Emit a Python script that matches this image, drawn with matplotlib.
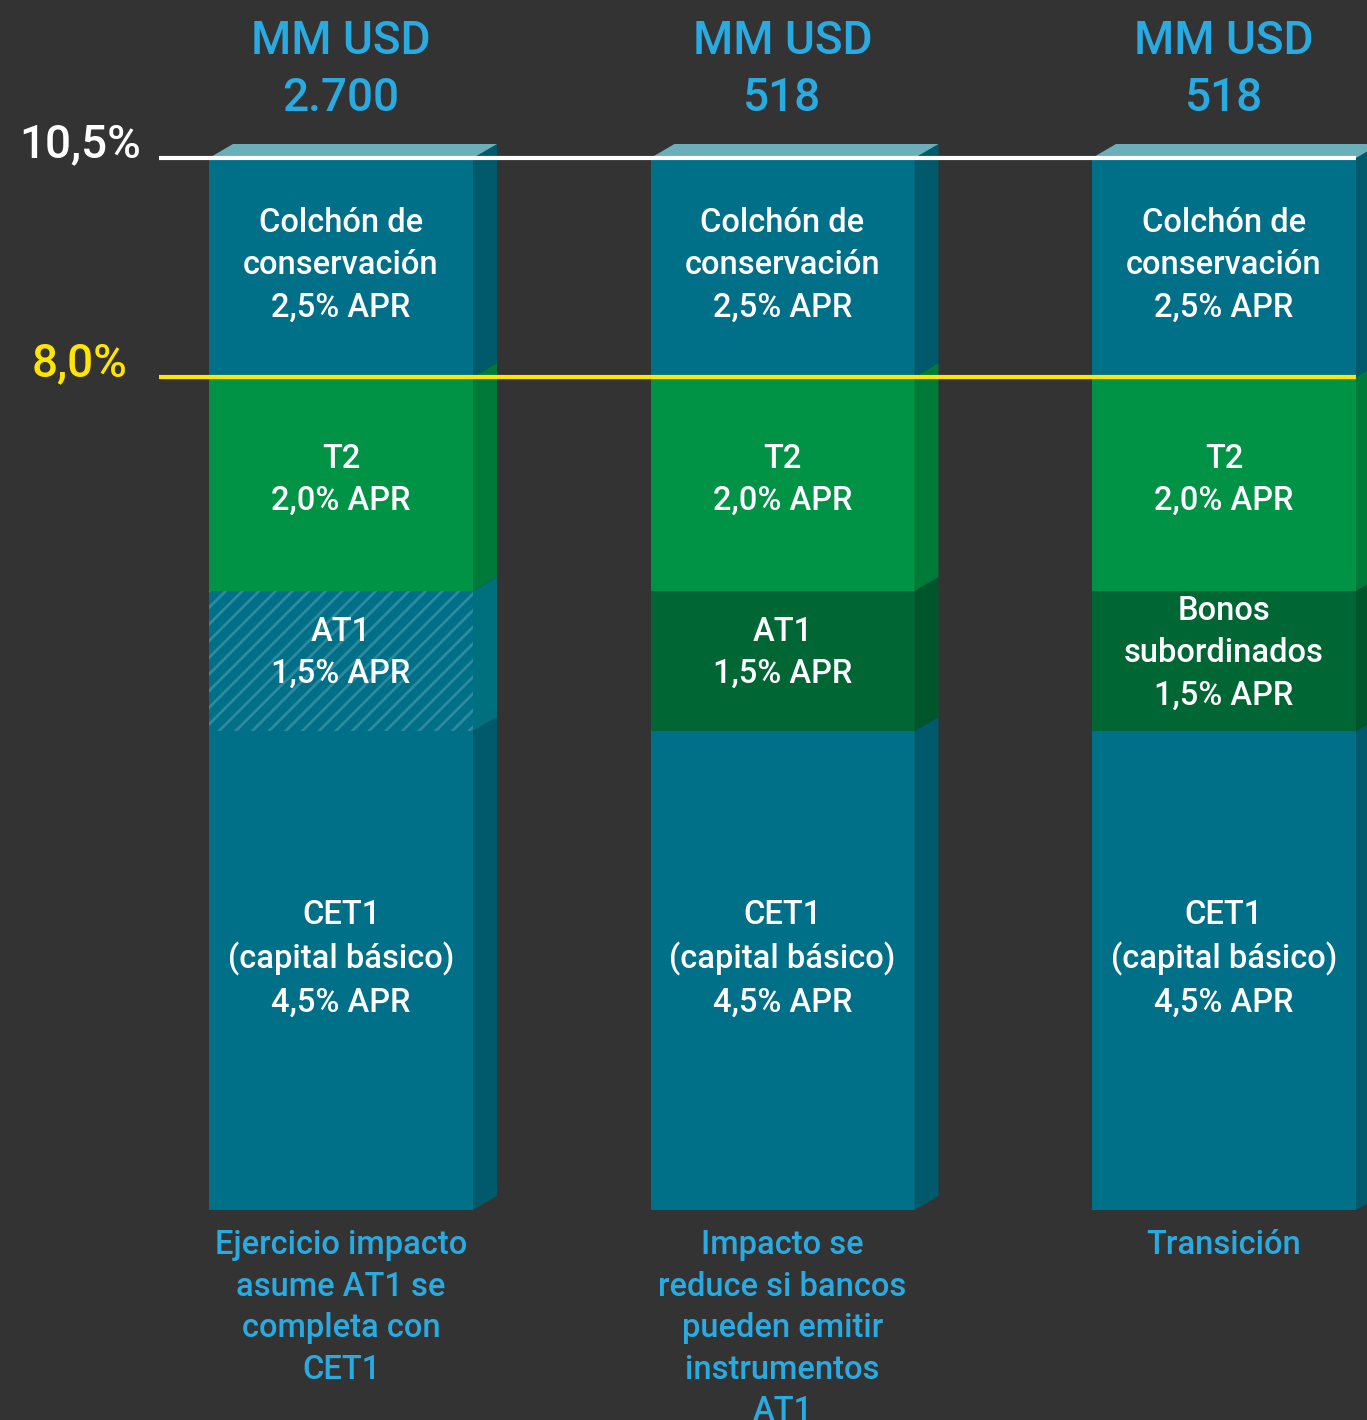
import numpy as np
import matplotlib
matplotlib.use("Agg")
import matplotlib.pyplot as plt
from matplotlib.patches import Polygon

# ---------------- data ----------------
bar_captions = [
    "Ejercicio impacto\nasume AT1 se\ncompleta con\nCET1",
    "Impacto se\nreduce si bancos\npueden emitir\ninstrumentos\nAT1",
    "Transición",
]
bar_amounts = ["2.700", "518", "518"]
amount_unit = "MM USD"

segment_values = [4.5, 1.5, 2.0, 2.5]          # % APR, bottom to top
cet1_names = ["CET1\n(capital básico)"] * 3
at1_names = ["AT1", "AT1", "Bonos\nsubordinados"]
t2_names = ["T2"] * 3
buffer_names = ["Colchón de\nconservación"] * 3
at1_style = ["hatched", "dark", "dark"]

threshold_values = [10.5, 8.0]
threshold_labels = ["10,5%", "8,0%"]

# ---------------- style ----------------
BG = "#333333"
TEAL, TEAL_SIDE, TEAL_TOP = "#006F88", "#005A6C", "#6AAFBA"
GREEN, GREEN_SIDE = "#009245", "#007A38"
DGREEN, DGREEN_SIDE = "#006633", "#00552B"
HATCH_SIDE, HATCH_LINE = "#00707E", "#2E8A9E"
BLUE = "#29ABE2"
YELLOW = "#FFE500"
WHITE = "#FFFFFF"
FONT = ["Roboto", "DejaVu Sans"]

plt.rcParams["font.family"] = FONT
plt.rcParams["font.weight"] = "medium"
plt.rcParams["hatch.linewidth"] = 2.0

W_PX, H_PX = 1367, 1420
fig = plt.figure(figsize=(W_PX / 100, H_PX / 100), dpi=100)
fig.patch.set_facecolor(BG)
ax = fig.add_axes([0, 0, 1, 1])
ax.set_facecolor(BG)
ax.axis("off")

# y scale: piecewise-linear, matching the uneven segment spacing of the original
cum = np.concatenate([[0], np.cumsum(segment_values)])
knot_d = np.concatenate([[-20], cum, [cum[-1] + 20]])
knot_p = np.concatenate([[-2000], [0, 479, 619, 833, 1052], [1052 + 2000]])


def fwd(y):
    return np.interp(y, knot_d, knot_p)


def inv(p):
    return np.interp(p, knot_p, knot_d)


ax.set_yscale("function", functions=(fwd, inv))
ax.set_ylim(float(inv(-210)), float(inv(1210)))

UNIT = 441.5  # px per category step
ax.set_xlim(-341 / UNIT, (W_PX - 341) / UNIT)
BW = 264 / UNIT
DX = 24 / UNIT
DY_PX = 14


def up(y, px=DY_PX):
    return float(inv(fwd(y) + px))


def fmt(v):
    return f"{v:.1f}".replace(".", ",") + "% APR"


n = len(bar_captions)
for i in range(n):
    names = [cet1_names[i], at1_names[i], t2_names[i], buffer_names[i]]
    styles = ["teal", at1_style[i], "green", "teal"]
    lifts = [12, 8, 4, 2]
    bottom = 0.0
    x0, x1 = i - BW / 2, i + BW / 2
    for name, val, st, lift in zip(names, segment_values, styles, lifts):
        top = bottom + val
        if st == "teal":
            fc, sc = TEAL, TEAL_SIDE
        elif st == "green":
            fc, sc = GREEN, GREEN_SIDE
        elif st == "dark":
            fc, sc = DGREEN, DGREEN_SIDE
        else:
            fc, sc = TEAL, HATCH_SIDE
        if st == "hatched":
            ax.bar(i, val, bottom=bottom, width=BW, color=fc, edgecolor=HATCH_LINE,
                   hatch="//", linewidth=0, zorder=2)
        else:
            ax.bar(i, val, bottom=bottom, width=BW, color=fc, linewidth=0, zorder=2)
        side = Polygon([(x1, bottom), (x1 + DX, up(bottom)), (x1 + DX, up(top)), (x1, top)],
                       closed=True, facecolor=sc, edgecolor="none", zorder=2)
        ax.add_patch(side)
        ymid = float(inv((fwd(bottom) + fwd(top)) / 2 + lift))
        ax.text(i, ymid, f"{name}\n{fmt(val)}", ha="center", va="center", color=WHITE,
                fontsize=23.5, linespacing=1.42, zorder=5)
        bottom = top
    topf = Polygon([(x0, bottom), (x0 + DX, up(bottom)), (x1 + DX, up(bottom)), (x1, bottom)],
                   closed=True, facecolor=TEAL_TOP, edgecolor="none", zorder=2)
    ax.add_patch(topf)
    # header
    ax.annotate(f"{amount_unit}\n{bar_amounts[i]}", xy=(i, cum[-1]), xytext=(0, 64),
                textcoords="offset points", ha="center", va="center", color=BLUE,
                fontsize=33, linespacing=1.37, zorder=5)
    # caption
    ax.annotate(bar_captions[i], xy=(i, 0), xytext=(0, -14), textcoords="offset points",
                ha="center", va="top", color=BLUE, fontsize=23.5, linespacing=1.38, zorder=5)

# threshold lines
line_x0 = 0 - BW / 2 - 50 / UNIT
line_x1 = (n - 1) + BW / 2
for val, lab, col in zip(threshold_values, threshold_labels, [WHITE, YELLOW]):
    ax.plot([line_x0, line_x1], [val, val], color=col, lw=3, solid_capstyle="butt", zorder=4)
    ax.annotate(lab, xy=(80 / UNIT - 341 / UNIT, val), xytext=(0, 10),
                textcoords="offset points", ha="center", va="center", color=col,
                fontsize=33, zorder=5)

fig.savefig("out.png", dpi=100, facecolor=BG)
